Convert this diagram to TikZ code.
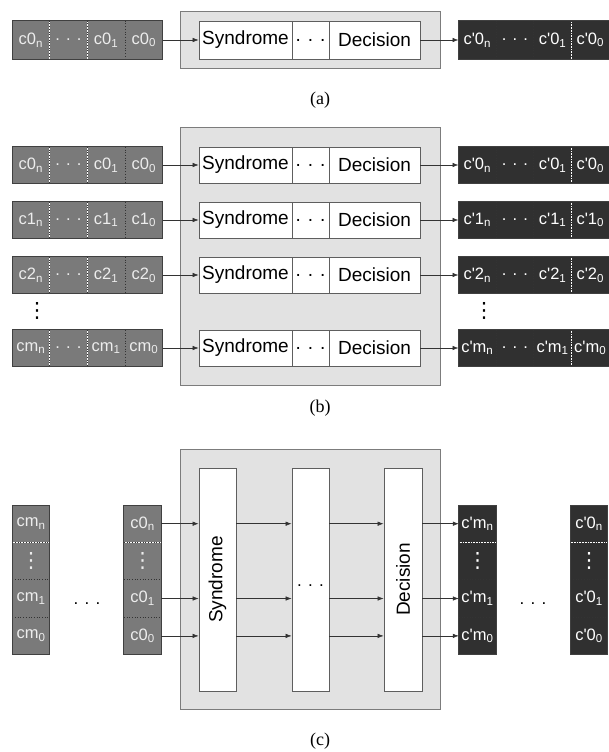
\documentclass[tikz,border=0pt]{standalone}
\usepackage{fontspec}
\setmainfont{Liberation Sans}
\newfontfamily\capfont{Liberation Serif}
\newfontfamily\dejavu{DejaVu Sans}
\usetikzlibrary{arrows.meta}
\definecolor{ingray}{HTML}{7A7A7A}
\definecolor{outdark}{HTML}{303030}
\definecolor{panelgray}{HTML}{E2E2E2}
\definecolor{panelline}{HTML}{7C7C7C}
\definecolor{boxline}{HTML}{5E5E5E}
\definecolor{intext}{HTML}{EDEDED}
\newcommand\ap{\textquotesingle}
\newcommand\vd{{\dejavu\fontsize{21}{21}\selectfont ⋮}}
% horizontal register: #1 cell style, #2 name, #3 x left, #4 y centre, #5 height, #6-#9 texts
\newcommand\hreg[9]{%
  \node[#1,minimum height=#5pt,anchor=west] (#2-1) at (#3,#4) {#6};
  \node[#1,minimum height=#5pt,anchor=west] (#2-2) at (#2-1.east) {#7};
  \node[#1,minimum height=#5pt,anchor=west] (#2-3) at (#2-2.east) {#8};
  \node[#1,minimum height=#5pt,anchor=west] (#2-4) at (#2-3.east) {#9};
  \draw[divider] (#2-1.north east) -- (#2-1.south east);
  \draw[divider] (#2-2.north east) -- (#2-2.south east);
  \draw[divider] (#2-3.north east) -- (#2-3.south east);
  \draw[regframe] (#2-1.north west) rectangle (#2-4.south east);
}
% vertical register: #1 cell style, #2 name, #3 x centre, #4 y top, #5-#8 texts
\newcommand\vreg[8]{%
  \node[#1,minimum height=37pt,anchor=north] (#2-1) at (#3,#4) {#5};
  \node[#1,minimum height=37pt,anchor=north] (#2-2) at (#2-1.south) {#6};
  \node[#1,minimum height=37pt,anchor=north] (#2-3) at (#2-2.south) {#7};
  \node[#1,minimum height=37pt,anchor=north] (#2-4) at (#2-3.south) {#8};
  \draw[divider] (#2-1.south west) -- (#2-1.south east);
  \draw[divider] (#2-2.south west) -- (#2-2.south east);
  \draw[divider] (#2-3.south west) -- (#2-3.south east);
  \draw[regframe] (#2-1.north west) rectangle (#2-4.south east);
}
\begin{document}
\begin{tikzpicture}[x=1pt,y=-1pt,
  panel/.style={draw=panelline,fill=panelgray,line width=0.8pt},
  wbox/.style={draw=boxline,fill=white,line width=0.8pt,inner sep=0pt,
    font=\fontsize{19}{19}\selectfont},
  incell/.style={fill=ingray,text=intext,inner sep=0pt,minimum width=37.25pt,
    font=\fontsize{16.5}{16.5}\selectfont},
  outcell/.style={fill=outdark,text=white,inner sep=0pt,minimum width=37.25pt,
    font=\fontsize{16.5}{16.5}\selectfont},
  vincell/.style={incell,minimum width=37pt},
  voutcell/.style={outcell,minimum width=37pt},
  divider/.style={draw=black!80,dotted,line width=0.7pt},
  regframe/.style={draw=black!75,line width=0.7pt},
  arr/.style={draw=black!80,line width=0.6pt,-{Latex[length=6pt,width=4.5pt]}},
  vdotsb/.style={inner sep=0pt,text=black},
  captext/.style={font=\capfont\fontsize{18}{18}\selectfont,inner sep=0pt}
]
\useasboundingbox (0,0) rectangle (608,752);

% ---------------- (a) ----------------
\node[panel,minimum width=260pt,minimum height=57pt] (pa) at (310,39.5) {};
\hreg{incell}{ia}{12}{40}{38}{c0\textsubscript{n}}{. . .}{c0\textsubscript{1}}{c0\textsubscript{0}}
\node[wbox,minimum width=93pt,minimum height=38pt] (sa) at (245.5,40) {Syndrome};
\node[wbox,minimum width=37pt,minimum height=38pt] (da) at (310.5,40) {. . .};
\node[wbox,minimum width=91pt,minimum height=38pt] (ea) at (374.5,40) {Decision};
\hreg{outcell}{oa}{458.5}{40}{38}{c\ap0\textsubscript{n}}{. . .}{c\ap0\textsubscript{1}}{c\ap0\textsubscript{0}}
\draw[arr] (ia-4.east) -- (sa.west);
\draw[arr] (ea.east) -- (oa-1.west);
\node[captext] (la) at (320,100) {(a)};

% ---------------- (b) ----------------
\node[panel,minimum width=260pt,minimum height=258pt] (pb) at (310,256) {};
\foreach \r/\yy/\k in {0/165/0,1/220/1,2/275/2,3/348/m}{
  \hreg{incell}{ib\r}{12}{\yy}{36}{c\k\textsubscript{n}}{. . .}{c\k\textsubscript{1}}{c\k\textsubscript{0}}
  \node[wbox,minimum width=93pt,minimum height=36pt] (sb\r) at (245.5,\yy) {Syndrome};
  \node[wbox,minimum width=37pt,minimum height=36pt] (db\r) at (310.5,\yy) {. . .};
  \node[wbox,minimum width=91pt,minimum height=36pt] (eb\r) at (374.5,\yy) {Decision};
  \hreg{outcell}{ob\r}{458.5}{\yy}{36}{c\ap\k\textsubscript{n}}{. . .}{c\ap\k\textsubscript{1}}{c\ap\k\textsubscript{0}}
  \draw[arr] (ib\r-4.east) -- (sb\r.west);
  \draw[arr] (eb\r.east) -- (ob\r-1.west);
}
\node[vdotsb] (vdl) at (37,311) {\vd};
\node[vdotsb] (vdr) at (484,311) {\vd};
\node[captext] (lb) at (320,408) {(b)};

% ---------------- (c) ----------------
\node[panel,minimum width=260pt,minimum height=260pt] (pc) at (310,579) {};
\node[wbox,minimum width=37pt,minimum height=223pt] (sc) at (217.5,579.5) {};
\node[rotate=90,font=\fontsize{19}{19}\selectfont,inner sep=0pt] (sct) at (sc.center) {Syndrome};
\node[wbox,minimum width=37pt,minimum height=223pt] (mc) at (310.5,579.5) {};
\node[font=\fontsize{17}{17}\selectfont,inner sep=0pt] (mct) at (310.5,586) {. . .};
\node[wbox,minimum width=38pt,minimum height=223pt] (ec) at (403,579.5) {};
\node[rotate=90,font=\fontsize{19}{19}\selectfont,inner sep=0pt] (ect) at (ec.center) {Decision};

\vreg{vincell}{icm}{31}{505}{cm\textsubscript{n}}{\vd}{cm\textsubscript{1}}{cm\textsubscript{0}}
\vreg{vincell}{ic0}{142.5}{505}{c0\textsubscript{n}}{\vd}{c0\textsubscript{1}}{c0\textsubscript{0}}
\vreg{voutcell}{ocm}{477.5}{505}{c\ap m\textsubscript{n}}{\vd}{c\ap m\textsubscript{1}}{c\ap m\textsubscript{0}}
\vreg{voutcell}{oc0}{589}{505}{c\ap0\textsubscript{n}}{\vd}{c\ap0\textsubscript{1}}{c\ap0\textsubscript{0}}
\node[font=\fontsize{17}{17}\selectfont,inner sep=0pt] (hdl) at (87,604) {. . .};
\node[font=\fontsize{17}{17}\selectfont,inner sep=0pt] (hdr) at (533,604) {. . .};

\foreach \c in {1,3,4}{
  \draw[arr] (ic0-\c.east) -- (ic0-\c.east -| sc.west);
  \draw[arr] (ic0-\c.east -| sc.east) -- (ic0-\c.east -| mc.west);
  \draw[arr] (ic0-\c.east -| mc.east) -- (ic0-\c.east -| ec.west);
  \draw[arr] (ic0-\c.east -| ec.east) -- (ocm-\c.west);
}
\node[captext] (lc) at (320,741) {(c)};
\end{tikzpicture}
\end{document}
